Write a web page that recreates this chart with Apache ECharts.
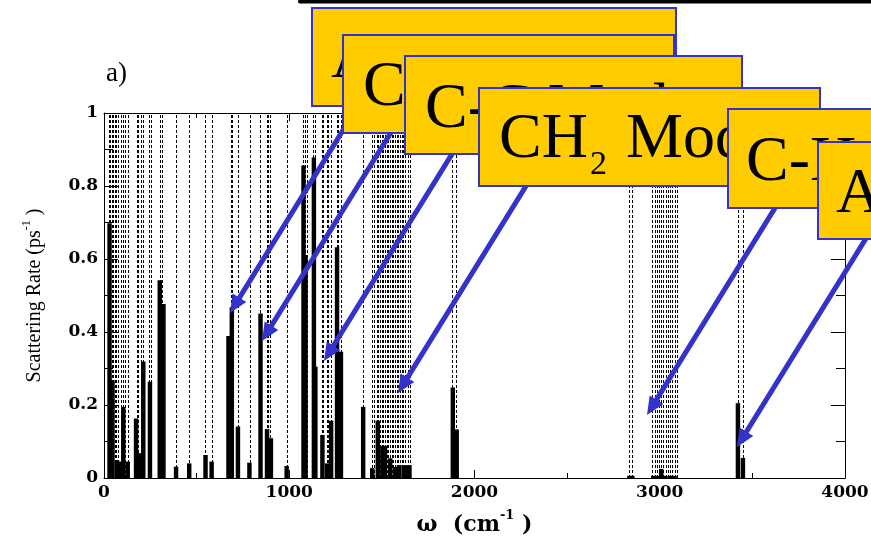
<!DOCTYPE html>
<html><head><meta charset="utf-8">
<script src="https://cdn.jsdelivr.net/npm/echarts@6/dist/echarts.min.js"></script>
<style>html,body{margin:0;padding:0;background:#fff}#c{width:871px;height:537px}</style>
</head><body><div id="c"></div>
<script>
// vibrational mode frequencies (dashed lines), cm^-1
const modeFreqs = [27,34,41,50,59,65,77,90,104,113,128,176,185,198,209,245,252,304,313,390,460,545,581,685,691,725,788,844,879,887,898,986,
  1076,1085,1097,1130,1139,1175,1184,1202,1211,1224,1256,1265,1279,1400,1445,1459,1472,1480,1490,1499,1508,1517,1526,1535,1544,1553,1562,1571,1580,1589,1598,1607,1616,1625,1643,1652,1878,1900,
  2836,2852,2960,2972,2984,2996,3008,3020,3032,3044,3056,3068,3080,3092,3421,3451];
// scattering-rate bars
const barFreqs = [30,46,70,84,104,128,173,194,212,248,301,321,389,460,548,581,672,690,723,785,845,880,901,986,
  1077,1088,1133,1141,1179,1204,1226,1258,1279,1399,1448,1478,1503,1517,1545,1571,1592,1617,1638,1649,1883,1904,
  2836,2852,2965,2990,3008,3030,3055,3080,3422,3449];
const barRates = [0.698,0.268,0.049,0.045,0.195,0.045,0.163,0.068,0.319,0.264,0.542,0.477,0.031,0.040,0.063,0.045,0.389,0.468,0.141,0.042,0.451,0.134,0.109,0.033,
  0.856,0.611,0.878,0.305,0.118,0.040,0.157,0.632,0.346,0.195,0.027,0.157,0.088,0.088,0.054,0.030,0.035,0.035,0.035,0.035,0.248,0.133,
  0.006,0.006,0.006,0.006,0.025,0.006,0.006,0.006,0.205,0.055];
const xTickLabels = ['0','1000','2000','3000','4000'];
const yTickLabels = ['0','0.2','0.4','0.6','0.8','1'];
const boxLabels = ['Acoustic','C-O Mode','C-C Mode','CH','C-H Mode','Amide'];

const chart = echarts.init(document.getElementById('c'));
const serifB = 'DejaVu Serif';
const axisCommon = {
  axisLine:{show:true,onZero:false,lineStyle:{color:'#000',width:1}},
  splitLine:{show:false}
};
function xAx(pos){
  return Object.assign({type:'value',min:0,max:4000,interval:1000,position:pos,
    axisTick:{inside:true,length:8,lineStyle:{color:'#000'}},
    minorTick:{show:true,splitNumber:2,length:5,lineStyle:{color:'#000'}},
    axisLabel:{show:pos==='bottom',margin:6,fontFamily:serifB,fontWeight:'bold',fontSize:17,color:'#000',
      formatter:(v)=>xTickLabels[Math.round(v/1000)]}
  },axisCommon);
}
function yAx(pos){
  return Object.assign({type:'value',min:0,max:1,interval:0.2,position:pos,
    axisTick:{inside:true,length:14,lineStyle:{color:'#000'}},
    minorTick:{show:true,splitNumber:2,length:9,lineStyle:{color:'#000'}},
    axisLabel:{show:pos==='left',margin:6,fontFamily:serifB,fontWeight:'bold',fontSize:17,color:'#000',
      formatter:(v)=>yTickLabels[Math.round(v/0.2)]}
  },axisCommon);
}
const xb = xAx('bottom');
xb.name = '{w|ω  (cm}{s|-1}{w| )}';
xb.nameLocation = 'middle';
xb.nameGap = 31;
xb.nameTextStyle = {rich:{
  w:{fontFamily:serifB,fontWeight:'bold',fontSize:22,lineHeight:32,color:'#000'},
  s:{fontFamily:serifB,fontWeight:'bold',fontSize:13,lineHeight:14,color:'#000',verticalAlign:'top'}}};
const yl = yAx('left');
yl.name = '{t|Scattering Rate (ps}{s|-1}{t| )}';
yl.nameLocation = 'middle';
yl.nameRotate = 90;
yl.nameGap = 55;
yl.nameTextStyle = {rich:{
  t:{fontFamily:'Liberation Serif',fontSize:20,lineHeight:28,color:'#000'},
  s:{fontFamily:'Liberation Serif',fontSize:12,lineHeight:13,color:'#000',verticalAlign:'top'}}};

// annotation geometry
const boxes = [[312,8,364,98],[343,35,331,98],[405,56,337,98],[479,88,341,98],[728,109,200,99],[818,142,150,97]];
const tips = [[230,313],[262,341],[324,361],[398,393],[647,415],[737,447]];
const dir = [128,-207];
const graphics = [];
graphics.push({type:'line',z:100,shape:{x1:300,y1:1.5,x2:871,y2:1.5},style:{stroke:'#000',lineWidth:4,lineCap:'round'}});
graphics.push({type:'text',z:100,style:{text:'a)',x:106,y:82-8,font:'27px "Liberation Serif"',fill:'#000',textVerticalAlign:'middle'}});
const L = Math.hypot(dir[0],dir[1]); const ux=dir[0]/L, uy=dir[1]/L; const px=-uy, py=ux;
tips.forEach(t=>{
  const hl=18, hw=8;
  const bx=t[0]+ux*hl, by=t[1]+uy*hl;
  graphics.push({type:'line',z:101,shape:{x1:bx-ux*2,y1:by-uy*2,x2:t[0]+dir[0]+ux*6,y2:t[1]+dir[1]+uy*6},style:{stroke:'#3333cc',lineWidth:5}});
  graphics.push({type:'polygon',z:101,shape:{points:[[t[0],t[1]],[bx+px*hw,by+py*hw],[bx-px*hw,by-py*hw]]},style:{fill:'#3333cc'}});
});
const textPos = [[331,80],[363,108],[425,130],[499,160],[746,183],[836,215]];
boxes.forEach((b,i)=>{
  graphics.push({type:'rect',z:110+i*2,shape:{x:b[0],y:b[1],width:b[2],height:b[3]},style:{fill:'#ffcc00',stroke:'#3333cc',lineWidth:2}});
  const tp=textPos[i];
  graphics.push({type:'text',z:111+i*2,style:{text:boxLabels[i],x:tp[0],y:tp[1]-19.5,font:'64px "Liberation Serif"',fill:'#000',textVerticalAlign:'middle'}});
  if(i===3){
    graphics.push({type:'text',z:111+i*2,style:{text:'2',x:590,y:175-10,font:'34px "Liberation Serif"',fill:'#000',textVerticalAlign:'middle'}});
    graphics.push({type:'text',z:111+i*2,style:{text:'Mode',x:626,y:160-19.5,font:'64px "Liberation Serif"',fill:'#000',textVerticalAlign:'middle'}});
  }
});

chart.setOption({
  animation:false,
  backgroundColor:'#fff',
  grid:{left:104,right:26,top:113,bottom:59,containLabel:false,outerBoundsMode:'none'},
  xAxis:[xb,xAx('top')],
  yAxis:[yl,yAx('right')],
  series:[
    {type:'custom',xAxisIndex:0,yAxisIndex:0,clip:true,silent:true,
     data:modeFreqs.map(f=>[f]),encode:{x:0},
     renderItem:(params,api)=>{
       const p0=api.coord([api.value(0),0]); const p1=api.coord([api.value(0),1]);
       const x=Math.round(p0[0])+0.5;
       return {type:'line',shape:{x1:x,y1:p0[1],x2:x,y2:p1[1]},style:{stroke:'#000',lineWidth:1,lineDash:[3,2]}};
     }},
    {type:'custom',xAxisIndex:0,yAxisIndex:0,clip:true,silent:true,
     data:barFreqs.map((f,i)=>[f,barRates[i]]),encode:{x:0,y:1},
     renderItem:(params,api)=>{
       const f=api.value(0), r=api.value(1);
       const a=api.coord([f-12,r]); const b=api.coord([f+12,0]);
       return {type:'rect',shape:{x:a[0],y:a[1],width:b[0]-a[0],height:b[1]-a[1]},style:{fill:'#000'}};
     }}
  ],
  graphic:graphics
});
</script></body></html>
